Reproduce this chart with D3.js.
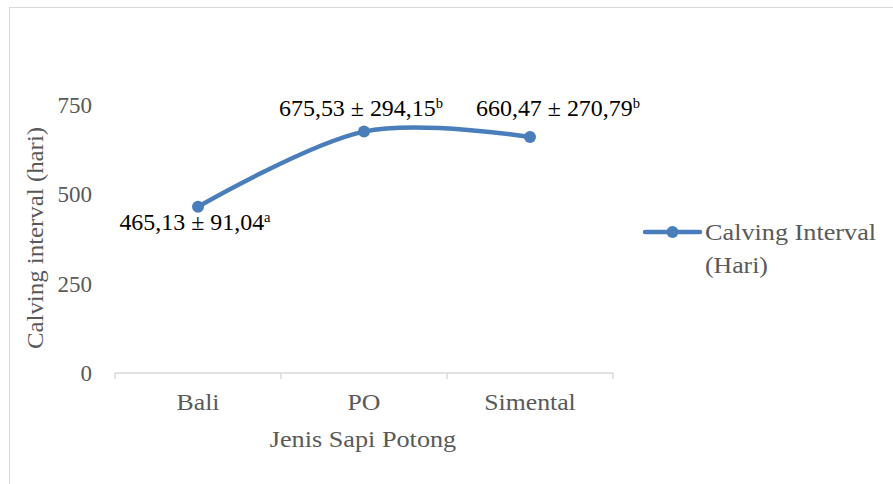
<!DOCTYPE html>
<html>
<head>
<meta charset="utf-8">
<script src="https://cdn.jsdelivr.net/npm/d3@7"></script>
<style>
  body { margin: 0; background: #fff; }
  svg text { font-family: "Liberation Serif", "DejaVu Serif", serif; }
</style>
</head>
<body>
<svg id="chart" width="893" height="484"></svg>
<script>
// data
const categories = ["Bali", "PO", "Simental"];
const calvingInterval = [465.13, 675.53, 660.47];
const stdDev = ["91,04", "294,15", "270,79"];
const letters = ["a", "b", "b"];
const means = ["465,13", "675,53", "660,47"];
const yTicks = [0, 250, 500, 750];

const svg = d3.select("#chart"),
    WIDTH = 893,
    HEIGHT = 484,
    MARGINS = {top: 105, right: 280, bottom: 111, left: 115},
    blue = "#4a7ebb",
    grey = "#595959",
    fontSize = 23;

// the original font (Palatino) is wider than Liberation Serif, so widen the glyphs a bit
function stretch(sel, k) {
    sel.each(function() {
        let w = this.getComputedTextLength();
        d3.select(this)
            .attr("textLength", w * k)
            .attr("lengthAdjust", "spacingAndGlyphs");
    });
}

// chart frame
svg.append("rect")
    .attr("x", 9.5).attr("y", 7.5)
    .attr("width", 900).attr("height", 500)
    .attr("fill", "#fff")
    .attr("stroke", "#d9d9d9");

let x = d3.scaleBand()
    .domain(categories)
    .range([MARGINS.left, WIDTH - MARGINS.right]);

let y = d3.scaleLinear()
    .domain([0, 750])
    .range([HEIGHT - MARGINS.bottom, MARGINS.top]);

// x axis
let xAxis = svg.append("g")
    .attr("transform", "translate(0," + (HEIGHT - MARGINS.bottom) + ")");
xAxis.append("line")
    .attr("x1", x.range()[0]).attr("x2", x.range()[1])
    .attr("stroke", "#d9d9d9").attr("stroke-width", 1.5);
xAxis.selectAll(".tk")
    .data(d3.range(categories.length + 1))
    .enter().append("line")
    .attr("x1", function(i){ return x.range()[0] + i * x.bandwidth(); })
    .attr("x2", function(i){ return x.range()[0] + i * x.bandwidth(); })
    .attr("y1", 0).attr("y2", 6)
    .attr("stroke", "#d9d9d9").attr("stroke-width", 1.5);
xAxis.selectAll(".cat")
    .data(categories)
    .enter().append("text")
    .attr("x", function(d){ return x(d) + x.bandwidth() / 2; })
    .attr("y", 37)
    .attr("text-anchor", "middle")
    .attr("font-size", fontSize)
    .attr("fill", grey)
    .text(function(d){ return d; })
    .call(stretch, 1.12);

// y axis labels
svg.selectAll(".ytick")
    .data(yTicks)
    .enter().append("text")
    .attr("x", 92)
    .attr("y", function(d){ return y(d); })
    .attr("dy", "0.35em")
    .attr("text-anchor", "end")
    .attr("font-size", fontSize)
    .attr("fill", grey)
    .text(function(d){ return d; });

// axis titles
svg.append("text")
    .attr("x", 363).attr("y", 447)
    .attr("text-anchor", "middle")
    .attr("font-size", fontSize)
    .attr("fill", grey)
    .text("Jenis Sapi Potong")
    .call(stretch, 1.14);

svg.append("text")
    .attr("transform", "translate(43,238) rotate(-90)")
    .attr("text-anchor", "middle")
    .attr("font-size", fontSize)
    .attr("fill", grey)
    .text("Calving interval (hari)")
    .call(stretch, 1.08);

// line
let line = d3.line()
    .x(function(d, i){ return x(categories[i]) + x.bandwidth() / 2; })
    .y(function(d){ return y(d); })
    .curve(d3.curveCardinal.tension(0));

svg.append("path")
    .datum(calvingInterval)
    .attr("d", line)
    .attr("fill", "none")
    .attr("stroke", blue)
    .attr("stroke-width", 4.5)
    .attr("stroke-linecap", "round");

svg.selectAll(".dot")
    .data(calvingInterval)
    .enter().append("circle")
    .attr("cx", function(d, i){ return x(categories[i]) + x.bandwidth() / 2; })
    .attr("cy", function(d){ return y(d); })
    .attr("r", 6)
    .attr("fill", blue);

// data labels
let labelPos = [
    {dx: -3, dy: 23},
    {dx: -3, dy: -16},
    {dx: 28, dy: -21}
];
let lbl = svg.selectAll(".lbl")
    .data(calvingInterval)
    .enter().append("text")
    .attr("x", function(d, i){ return x(categories[i]) + x.bandwidth() / 2 + labelPos[i].dx; })
    .attr("y", function(d, i){ return y(d) + labelPos[i].dy; })
    .attr("text-anchor", "middle")
    .attr("font-size", fontSize)
    .attr("fill", "#000");
lbl.append("tspan").text(function(d, i){ return means[i] + " \u00b1 " + stdDev[i]; });
lbl.append("tspan")
    .attr("font-size", 14)
    .attr("dy", -8)
    .text(function(d, i){ return letters[i]; });
lbl.call(stretch, 1.04);

// legend
let legend = svg.append("g").attr("transform", "translate(645,232)");
legend.append("line")
    .attr("x1", 0).attr("x2", 55)
    .attr("stroke", blue).attr("stroke-width", 4.5)
    .attr("stroke-linecap", "round");
legend.append("circle")
    .attr("cx", 27.5).attr("r", 6).attr("fill", blue);
legend.append("text")
    .attr("x", 60).attr("y", 8)
    .attr("font-size", fontSize)
    .attr("fill", grey)
    .text("Calving Interval")
    .call(stretch, 1.14);
legend.append("text")
    .attr("x", 60).attr("y", 41)
    .attr("font-size", fontSize)
    .attr("fill", grey)
    .text("(Hari)")
    .call(stretch, 1.12);
</script>
</body>
</html>
